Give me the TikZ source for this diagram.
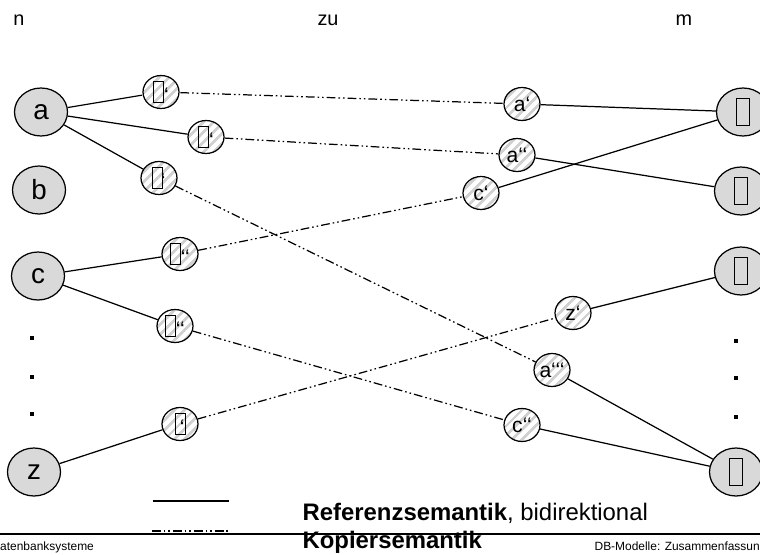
\documentclass[tikz,border=0pt]{standalone}
\usepackage{fontspec}
\setmainfont{Liberation Sans}
\usetikzlibrary{shapes.geometric,patterns.meta,positioning}

% empty box in place of the missing glyph
\newcommand{\gbox}{{\setlength{\fboxsep}{0pt}\setlength{\fboxrule}{0.55pt}\fbox{\rule{0pt}{0.95em}\hspace{0.42em}}}}

\begin{document}
\begin{tikzpicture}[x=0.02cm, y=-0.02cm, line width=0.7pt,
  ent/.style = {ellipse, draw=black, fill=black!15, inner sep=0pt, minimum width=1.06cm, minimum height=0.96cm, font=\fontsize{15.8}{17}\selectfont},
  cpy/.style = {ellipse, draw=black, inner sep=0pt, minimum width=0.72cm, minimum height=0.66cm, preaction={fill=white}, pattern={Lines[angle=45,distance=4pt,line width=1.6pt]}, pattern color=black!18, font=\fontsize{12}{13}\selectfont},
  refline/.style = {black},
  copyline/.style = {black, dash pattern=on 5pt off 1.7pt on 0.9pt off 1.7pt on 0.9pt off 1.7pt},
  dotbox/.style = {rectangle, fill=black, inner sep=0pt, minimum size=0.08cm},
  title/.style = {anchor=base, font=\fontsize{11.3}{13}\selectfont}]
  \useasboundingbox (0,0) rectangle (760,554);

  % column heads
  \node[title] (headn) at (19,26) {n};
  \node[title] (headzu) at (328,26) {zu};
  \node[title] (headm) at (684,26) {m};

  % objects on the left
  \node[ent] (nodea) at (41,112) {a};
  \node[ent] (nodeb) at (39,190) {b};
  \node[ent] (nodec) at (38,276) {c};
  \node[ent] (nodez) at (34,472) {z};

  % objects on the right
  \node[ent] (right1) at (743,112) {\gbox};
  \node[ent] (right2) at (741,191) {\gbox};
  \node[ent] (right3) at (741,271) {\gbox};
  \node[ent] (right4) at (736,472) {\gbox};

  % copies near the left
  \node[cpy] (lefta1) at (161,92) {\gbox‘};
  \node[cpy] (lefta2) at (206,137) {\gbox‘};
  \node[cpy] (lefta3) at (159,178) {\gbox\kern-0.1em‘};
  \node[cpy] (leftc1) at (180,254) {\gbox‘‘};
  \node[cpy] (leftc2) at (175,326) {\gbox‘‘};
  \node[cpy] (leftz1) at (180,424) {\gbox\kern-0.3em‘};

  % copies near the right
  \node[cpy] (copya1) at (522,104) {a‘};
  \node[cpy] (copya2) at (517,155) {a‘‘};
  \node[cpy] (copyc1) at (481,193) {c‘};
  \node[cpy] (copyz1) at (573,313) {z‘};
  \node[cpy] (copya3) at (552,370) {a‘‘‘};
  \node[cpy] (copyc2) at (522,425) {c‘‘};

  \draw[refline] (nodea) -- (lefta1);
  \draw[refline] (nodea) -- (lefta2);
  \draw[refline] (nodea) -- (lefta3);
  \draw[refline] (nodec) -- (leftc1);
  \draw[refline] (nodec) -- (leftc2);
  \draw[refline] (nodez) -- (leftz1);

  \draw[copyline] (lefta1) -- (copya1);
  \draw[copyline] (lefta2) -- (copya2);
  \draw[copyline] (lefta3) -- (copya3);
  \draw[copyline] (leftc1) -- (copyc1);
  \draw[copyline] (leftc2) -- (copyc2);
  \draw[copyline] (leftz1) -- (copyz1);

  \draw[refline] (copya1) -- (right1);
  \draw[refline] (copya2) -- (right2);
  \draw[refline] (copyc1) -- (right1);
  \draw[refline] (copyz1) -- (right3);
  \draw[refline] (copya3) -- (right4);
  \draw[refline] (copyc2) -- (right4);

  % dots
  \foreach \y [count=\i] in {338,377,414} {
    \node[dotbox] (ldot\i) at (32,\y) {};
  }
  \foreach \y [count=\i] in {341,378,417} {
    \node[dotbox] (rdot\i) at (736,\y) {};
  }

  % legend
  \coordinate (legref1) at (153,501);
  \coordinate (legref2) at (229,501);
  \coordinate (legcpy1) at (152,531);
  \coordinate (legcpy2) at (229,531);
  \draw[refline] (legref1) -- (legref2);
  \draw[copyline] (legcpy1) -- (legcpy2);
  \node[anchor=base west, inner sep=0pt, font=\fontsize{13.6}{15}\selectfont] (reftext) at (302,520) {\textbf{Referenzsemantik}, bidirektional};
  \node[anchor=base west, inner sep=0pt, font=\fontsize{13.6}{15}\selectfont] (cpytext) at (302,548) {\textbf{Kopiersemantik}};

  % footer
  \coordinate (rule1) at (0,534);
  \coordinate (rule2) at (760,534);
  \draw[line width=0.8pt] (rule1) -- (rule2);
  \node[anchor=base west, inner sep=0pt, font=\fontsize{6.8}{8}\selectfont] (footl) at (-9,550) {Datenbanksysteme};
  \node[anchor=base west, inner sep=0pt, font=\fontsize{6.8}{8}\selectfont] (footr) at (594,550) {DB-Modelle: Zusammenfassung};
\end{tikzpicture}
\end{document}
